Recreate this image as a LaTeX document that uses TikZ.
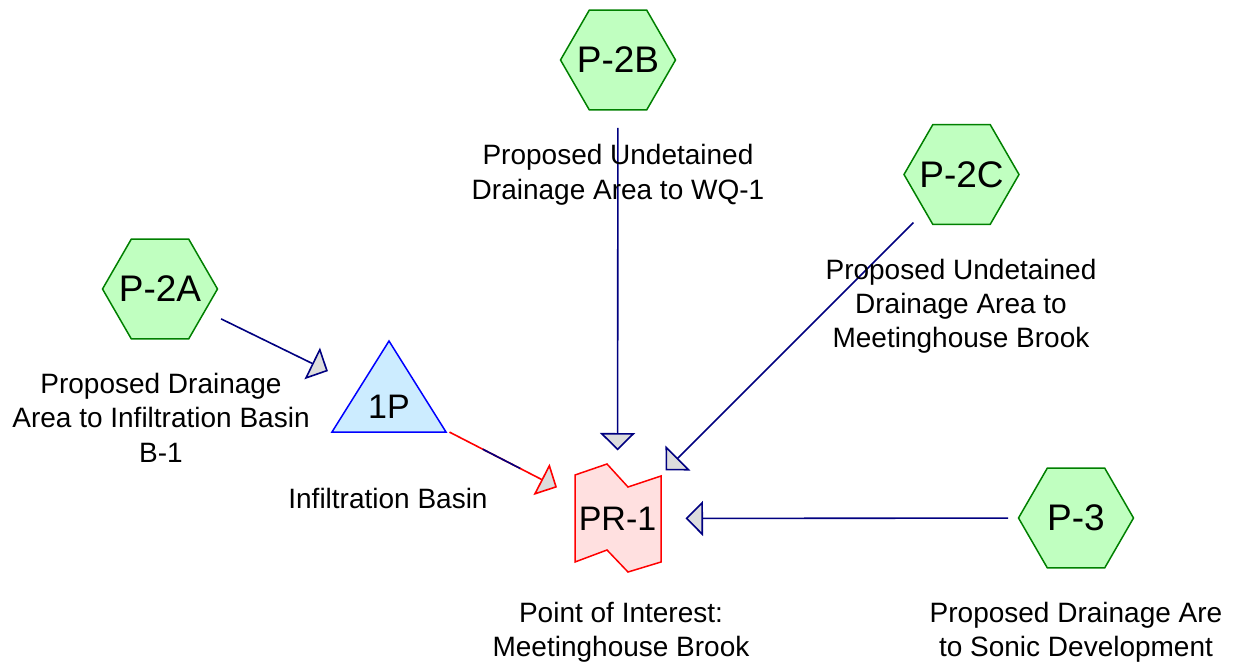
\documentclass[tikz,border=0pt]{standalone}
\usepackage{fontspec}
\setmainfont{Liberation Sans}
\usetikzlibrary{shapes.geometric,arrows.meta,calc}
\definecolor{hexfill}{RGB}{192,255,192}
\definecolor{hexdraw}{RGB}{0,128,0}
\definecolor{trifill}{RGB}{204,236,255}
\definecolor{tridraw}{RGB}{0,0,255}
\definecolor{prfill}{RGB}{255,224,224}
\definecolor{prdraw}{RGB}{255,0,0}
\definecolor{linkc}{RGB}{0,0,128}
\definecolor{tipfill}{RGB}{221,221,221}
\begin{document}
\begin{tikzpicture}[x=1pt,y=-1pt,
  hexnode/.style={regular polygon, regular polygon sides=6, minimum size=115pt,
    inner sep=0pt, fill=hexfill, draw=hexdraw, line width=1.5pt,
    label={[inner sep=0pt, font=\fontsize{37}{40}\selectfont]center:#1}},
  shapelbl/.style={inner sep=0pt, font=\fontsize{34}{38}\selectfont},
  lbl/.style={align=center, anchor=base, inner sep=0pt,
    font=\fontsize{28}{34.5}\selectfont},
  link/.style={draw=linkc, line width=1.6pt, shorten <=68pt, shorten >=68pt,
    -{Triangle[length=17.5pt,width=35pt,fill=tipfill]}},
  redlink/.style={link, draw=prdraw},
]
\useasboundingbox (0,0) rectangle (1237,668);

% hexagon nodes
\node[hexnode={P-2A}] (P2A) at (160,289) {};
\node[hexnode={P-2B}] (P2B) at (618,60) {};
\node[hexnode={P-2C}] (P2C) at (961.5,174.5) {};
\node[hexnode={P-3}] (P3) at (1076,518) {};

% pond 1P
\draw[fill=trifill, draw=tridraw, line width=1.5pt]
  (389,341) -- (446,432) -- (332,432) -- cycle;
\node[shapelbl] (n1P) at (389,407) {1P};
\coordinate (tri) at (389,401);

% reach PR-1
\draw[fill=prfill, draw=prdraw, line width=1.5pt]
  (575,475) -- (607,464) -- (628,487) -- (661,476) -- (661,562)
  -- (628,572) -- (607,550) -- (575,562) -- cycle;
\node[shapelbl] (PR) at (617.5,518.5) {PR-1};

% connectors
\draw[link] (P2B.center) -- (PR.center);
\draw[link] (P2C.center) -- (PR.center);
\draw[link] (P3.center) -- (PR.center);
\draw[link] (P2A.center) -- (tri);
\draw[redlink] (tri) -- (PR.center);
\draw[draw=linkc, line width=1.6pt] ($(tri)!0.41!(PR.center)$) -- ($(tri)!0.574!(PR.center)$);

% labels (anchor=base is the baseline of the last line)
\node[lbl] (l2b) at (618,199.5) {Proposed Undetained\\Drainage Area to WQ-1};
\node[lbl] (l2c) at (961,348) {Proposed Undetained\\Drainage Area to\\Meetinghouse Brook};
\node[lbl] (l2a) at (161,462) {Proposed Drainage\\Area to Infiltration Basin\\B-1};
\node[lbl] (l1p) at (388,508) {Infiltration Basin};
\node[lbl] (lpr) at (621,656.5) {Point of Interest:\\Meetinghouse Brook};
\node[lbl] (l3) at (1076,656.5) {Proposed Drainage Are\\to Sonic Development};
\end{tikzpicture}
\end{document}
